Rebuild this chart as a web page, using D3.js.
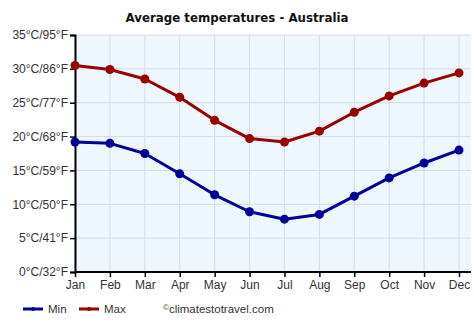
<!DOCTYPE html>
<html>
<head>
<meta charset="utf-8">
<script src="https://cdn.jsdelivr.net/npm/d3@7"></script>
<style>
  html, body { margin: 0; padding: 0; background: #fff; }
  svg { display: block; font-family: "Liberation Sans", Arial, sans-serif; }
</style>
</head>
<body>
<svg id="chart" width="474" height="331"></svg>
<script>
// Monthly average temperatures (°C)
const months = ["Jan", "Feb", "Mar", "Apr", "May", "Jun", "Jul", "Aug", "Sep", "Oct", "Nov", "Dec"];
const minTemps = [19.2, 19.0, 17.5, 14.5, 11.4, 8.9, 7.8, 8.5, 11.2, 13.9, 16.1, 18.0];
const maxTemps = [30.5, 29.9, 28.5, 25.8, 22.4, 19.7, 19.2, 20.8, 23.6, 26.0, 27.9, 29.4];
const yTicks = [0, 5, 10, 15, 20, 25, 30, 35];
const yTickLabels = ["0°C/32°F", "5°C/41°F", "10°C/50°F", "15°C/59°F", "20°C/68°F", "25°C/77°F", "30°C/86°F", "35°C/95°F"];

const svg = d3.select("#chart");
const plot = { left: 75, right: 471, top: 35, bottom: 272 };

const x = d3.scalePoint().domain(months).range([plot.left, 459]);
const y = d3.scaleLinear().domain([0, 35]).range([plot.bottom, plot.top]);

// Plot background
svg.append("rect")
  .attr("x", plot.left).attr("y", plot.top)
  .attr("width", plot.right - plot.left).attr("height", plot.bottom - plot.top)
  .attr("fill", "#eef6fe");

// Grid lines
svg.append("g").selectAll("line.h").data(yTicks).join("line")
  .attr("x1", plot.left).attr("x2", plot.right)
  .attr("y1", d => y(d)).attr("y2", d => y(d))
  .attr("stroke", "#d5dbe3").attr("stroke-width", 1);
svg.append("g").selectAll("line.v").data(months).join("line")
  .attr("x1", d => x(d)).attr("x2", d => x(d))
  .attr("y1", plot.top).attr("y2", plot.bottom)
  .attr("stroke", "#d5dbe3").attr("stroke-width", 1);

// Axes
const yAxis = d3.axisLeft(y).tickValues(yTicks)
  .tickFormat((d, i) => yTickLabels[i]).tickSize(5).tickPadding(2);
const gy = svg.append("g").attr("transform", `translate(${plot.left},0)`).call(yAxis);
gy.select(".domain").attr("stroke", "#000").attr("stroke-width", 2);
gy.selectAll(".tick line").attr("stroke", "#000").attr("stroke-width", 1.5);
gy.selectAll(".tick text").attr("font-size", 12).attr("fill", "#333")
  .attr("font-family", "'Liberation Sans', Arial, sans-serif");

const xAxis = d3.axisBottom(x).tickSize(5).tickPadding(3);
const gx = svg.append("g").attr("transform", `translate(0,${plot.bottom})`).call(xAxis);
gx.select(".domain").attr("d", `M${plot.left},0H${plot.right}`)
  .attr("stroke", "#000").attr("stroke-width", 2);
gx.selectAll(".tick line").attr("stroke", "#000").attr("stroke-width", 1.5);
gx.selectAll(".tick text").attr("font-size", 12).attr("fill", "#333")
  .attr("font-family", "'Liberation Sans', Arial, sans-serif");

// Series
const series = [
  { name: "Min", values: minTemps, color: "#000099" },
  { name: "Max", values: maxTemps, color: "#990000" }
];
const line = d3.line().x((d, i) => x(months[i])).y(d => y(d));
series.forEach(s => {
  svg.append("path").datum(s.values)
    .attr("d", line).attr("fill", "none")
    .attr("stroke", s.color).attr("stroke-width", 3)
    .attr("stroke-linejoin", "round");
  svg.append("g").selectAll("circle").data(s.values).join("circle")
    .attr("cx", (d, i) => x(months[i])).attr("cy", d => y(d))
    .attr("r", 4.5).attr("fill", s.color);
});

// Title
svg.append("text")
  .attr("x", 237).attr("y", 22)
  .attr("text-anchor", "middle")
  .attr("font-size", 11.8).attr("font-weight", "bold").attr("fill", "#111")
  .attr("font-family", "'DejaVu Sans', Verdana, sans-serif")
  .text("Average temperatures - Australia");

// Legend
const legend = svg.append("g").attr("transform", "translate(0,309)");
const legendItems = [{ s: series[0], x: 23 }, { s: series[1], x: 79 }];
legendItems.forEach(({ s, x: lx }) => {
  legend.append("line").attr("x1", lx).attr("x2", lx + 20).attr("y1", 0).attr("y2", 0)
    .attr("stroke", s.color).attr("stroke-width", 3);
  legend.append("circle").attr("cx", lx + 10).attr("cy", 0).attr("r", 2).attr("fill", s.color);
  legend.append("text").attr("x", lx + 25).attr("y", 4)
    .attr("font-size", 11.5).attr("fill", "#333").text(s.name);
});
legend.append("text").attr("x", 163).attr("y", 4)
  .attr("font-size", 11.5).attr("fill", "#333")
  .html('<tspan font-size="8" dy="-3">©</tspan><tspan dy="3">climatestotravel.com</tspan>');
</script>
</body>
</html>
